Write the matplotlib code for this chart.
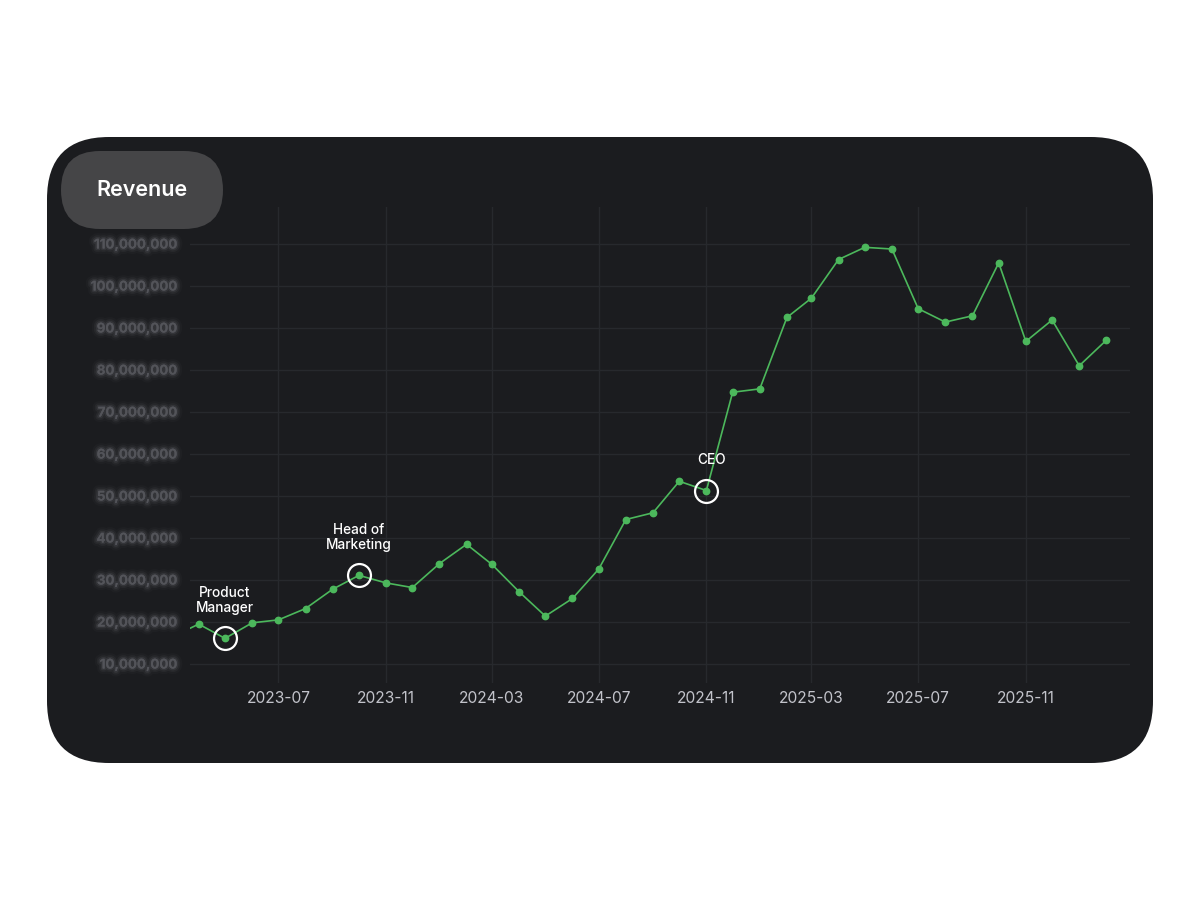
import matplotlib
matplotlib.use("Agg")
import matplotlib.pyplot as plt
import matplotlib.patheffects as pe
from matplotlib.patches import FancyBboxPatch
import pandas as pd

plt.rcParams['font.family'] = ['Inter', 'DejaVu Sans']

# ---- data ----
months = pd.date_range("2023-03-01", "2026-02-01", freq="MS")
revenue = [16.4, 19.5, 16.1, 19.8, 20.5, 23.2, 27.8, 31.1, 29.3, 28.2,
           33.9, 38.5, 33.7, 27.2, 21.4, 25.6, 32.6, 44.4, 46.0, 53.5,
           51.3, 74.7, 75.5, 92.5, 97.1, 106.3, 109.2, 108.8, 94.6, 91.4,
           92.9, 105.5, 86.8, 91.9, 81.0, 87.1]  # millions
revenue = [v * 1e6 for v in revenue]
ytick_values = [10e6, 20e6, 30e6, 40e6, 50e6, 60e6, 70e6, 80e6, 90e6, 100e6, 110e6]
xtick_labels = ["2023-07", "2023-11", "2024-03", "2024-07", "2024-11", "2025-03", "2025-07", "2025-11"]
events = [("2023-05-01", "Product\nManager"), ("2023-10-01", "Head of\nMarketing"), ("2024-11-01", "CEO")]
title = "Revenue"

W, H = 1200, 900
fig = plt.figure(figsize=(12, 9), dpi=100)
fig.patch.set_facecolor("white")

# background card
bg = fig.add_axes([0, 0, 1, 1])
bg.set_xlim(0, W)
bg.set_ylim(H, 0)
bg.axis("off")
card = FancyBboxPatch((47, 137), 1106, 626,
                      boxstyle="round,pad=0,rounding_size=62", fc="#1b1c1f", ec="none")
bg.add_patch(card)

# main axes
L, R, T, B = 190, 1130, 207, 683
ax = fig.add_axes([L / W, 1 - B / H, (R - L) / W, (B - T) / H])
ax.set_facecolor("none")
ax.set_zorder(2)

ax.plot(months, revenue, color="#4cb85c", lw=1.2, marker="o", ms=4.6,
        mec="#4cb85c", mfc="#4cb85c", zorder=3)

ax.set_xlim(pd.Timestamp("2023-03-22"), pd.Timestamp("2026-02-28"))
ax.set_ylim(5.476e6, 118.8e6)

xt = [pd.Timestamp(s + "-01") for s in xtick_labels]
ax.set_xticks(xt)
ax.set_xticklabels(xtick_labels)
ax.set_yticks(ytick_values)
ax.set_yticklabels([f"{int(v):,}" for v in ytick_values])

ax.grid(True, color="#27292d", lw=1.0)
ax.set_axisbelow(True)
for s in ax.spines.values():
    s.set_visible(False)
ax.tick_params(axis="both", length=0)
ax.tick_params(axis="x", pad=6, labelsize=11.2, labelcolor="#c2c3ca")
ax.tick_params(axis="y", pad=9, labelsize=9.6, labelcolor="#55565c")
for lab in ax.get_yticklabels():
    lab.set_alpha(0.5)
    lab.set_fontweight("bold")
    lab.set_path_effects([pe.withStroke(linewidth=8, foreground="#3c3d42", alpha=0.12),
                          pe.withStroke(linewidth=5, foreground="#44454a", alpha=0.22),
                          pe.withStroke(linewidth=2.5, foreground="#4c4d52", alpha=0.35),
                          pe.Normal()])

# event annotations
rev_s = pd.Series(revenue, index=months)
for d, label in events:
    ts = pd.Timestamp(d)
    v = rev_s[ts]
    ax.plot([ts], [v], marker="o", ms=16.5, mfc="none", mec="white", mew=1.6, zorder=4)
    dx = 4 if label == "CEO" else 0
    ax.annotate(label, (ts, v), xytext=(dx, 17), textcoords="offset points",
                ha="center", va="bottom", color="white", fontsize=9.8,
                fontweight="medium", linespacing=1.1, zorder=5)

# title pill
top = fig.add_axes([0, 0, 1, 1])
top.set_xlim(0, W)
top.set_ylim(H, 0)
top.axis("off")
top.set_zorder(5)
pill = FancyBboxPatch((61, 151), 162, 78,
                      boxstyle="round,pad=0,rounding_size=39", fc="#454547", ec="none", zorder=5)
top.add_patch(pill)
top.text(142, 190, title, color="white", fontsize=15.5, fontweight="semibold",
         ha="center", va="center", zorder=6)

fig.savefig("out.png", dpi=100, facecolor="white")
